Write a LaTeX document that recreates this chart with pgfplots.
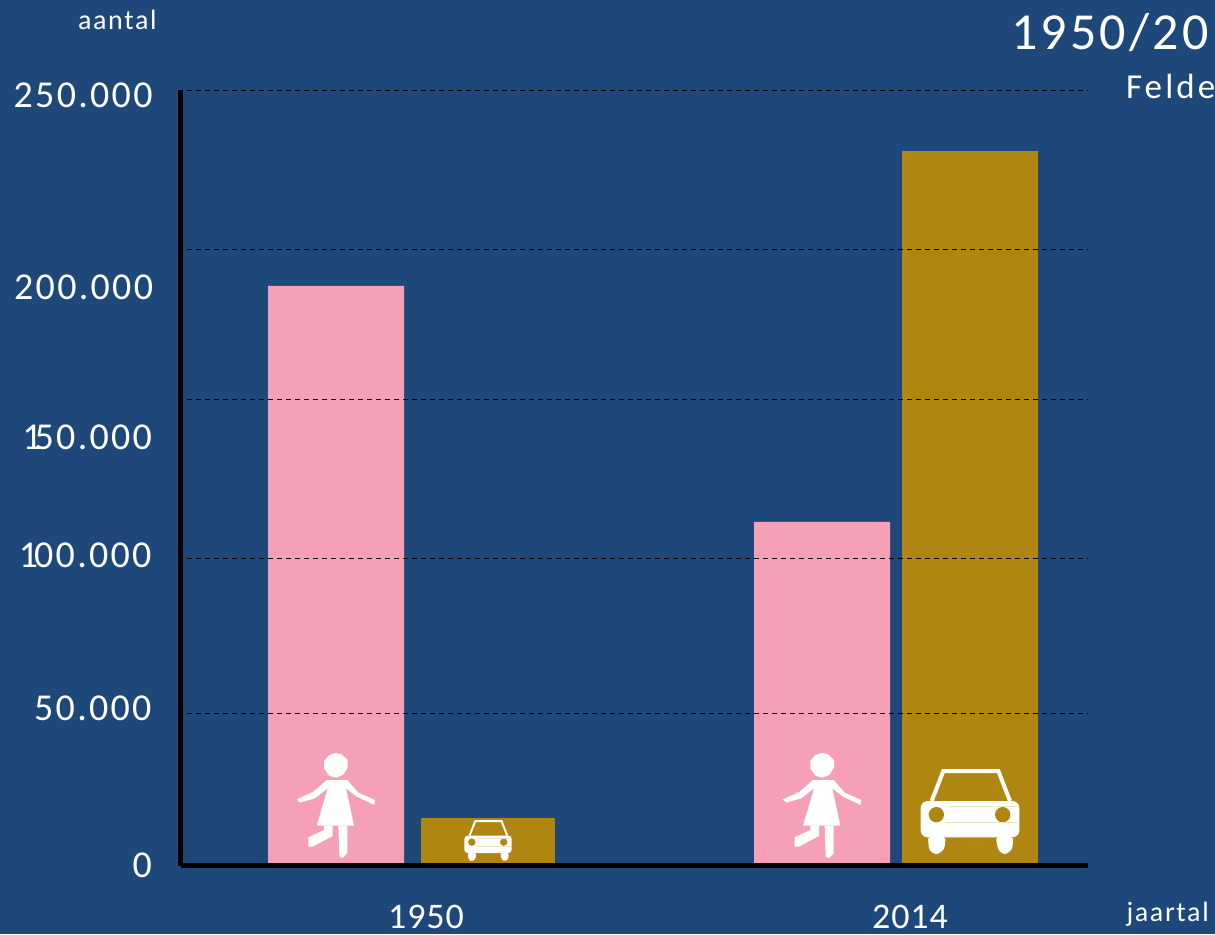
\documentclass[border=0pt]{standalone}
\usepackage{pgfplots}
\pgfplotsset{compat=1.18}
\usepackage{fontspec}
\setmainfont{Carlito}[LetterSpace=6]
\definecolor{bg}{HTML}{1E477A}
\definecolor{pinkbar}{HTML}{F5A0B6}
\definecolor{goldbar}{HTML}{AF8611}
% pictograms, coordinates are those of a 3x enlargement
\newcommand\girl[2]{%
\begin{scope}[shift={(#1pt,-#2pt)},x=0.3333pt,y=-0.3333pt,white]
\fill (0,-36) -- (18,-32) -- (36,-15) -- (36,8) -- (22,30) -- (0,38) -- (-20,32) -- (-35,10) -- (-35,-12) -- (-20,-30) -- cycle;
\fill (-27,45) -- (35,45) -- (68,83) -- (118,105) -- (116,120) -- (63,95) -- (31,70) -- (55,182) -- (-57,182) -- (-24,70) -- (-62,100) -- (-107,113) -- (-117,103) -- (-67,80) -- cycle;
\fill (8,182) -- (35,182) -- (35,265) -- (21,279) -- (11,275) -- cycle;
\fill (-35,182) -- (-9,182) -- (-9,213) -- (-69,245) -- (-82,245) -- (-82,217) -- (-35,195) -- cycle;
\end{scope}}
\newcommand\car[3]{%
\begin{scope}[shift={(#1pt,-#2pt)},x=#3*0.3333pt,y=-#3*0.3333pt]
\draw[white,line width=#3*4pt,line join=miter] (-115,-162) -- (-80,-252) -- (85,-252) -- (120,-162);
\fill[white,rounded corners=#3*7pt] (-148,-162) -- (148,-162) -- (148,-53) -- (-148,-53) -- cycle;
\fill[white,rounded corners=#3*3pt] (-127,-54) -- (-73,-54) -- (-77,-17) -- (-100,0) -- (-122,-13) -- cycle;
\fill[white,rounded corners=#3*3pt] (77,-54) -- (130,-54) -- (127,-17) -- (105,0) -- (85,-13) -- cycle;
\fill[goldbar] (-101,-121) circle[radius=23];
\fill[goldbar] (98,-121) circle[radius=23];
\draw[goldbar!25!white,line width=0.5pt] (-60,-147) -- (145,-147);
\draw[goldbar!25!white,line width=0.5pt] (-76,-98) -- (145,-98);
\end{scope}}
\newcommand\ticklab{\fontsize{38}{42}\selectfont}
\newcommand\yearlab{\fontsize{36}{40}\selectfont\addfontfeature{LetterSpace=2.5}}
\begin{document}
\begin{tikzpicture}
\path[use as bounding box,fill=bg] (0pt,0pt) rectangle (1215pt,-934pt);
\begin{axis}[
  at={(180.8pt,-865.7pt)},anchor=south west,
  scale only axis,width=907.4pt,height=775.7pt,
  xmin=180.8,xmax=1088.2,ymin=0,ymax=250000,
  axis x line=bottom,axis y line=left,
  axis line style={-,black,line width=5pt},
  ticks=none,clip=false,axis on top,
]
% bars
\addplot[ybar,bar width=136,bar shift=0pt,fill=pinkbar,draw=none] coordinates {(336,186900) (822,110800)};
\addplot[ybar,bar width=134,bar shift=0pt,fill=goldbar,draw=none] coordinates {(488,15300)};
\addplot[ybar,bar width=136,bar shift=0pt,fill=goldbar,draw=none] coordinates {(970,230500)};
% gridlines
\pgfplotsinvokeforeach{49200,99000,150200,198600,250000}{
  \addplot[black,line width=1pt,dash pattern=on 5pt off 4pt] coordinates {(187,#1) (1088,#1)};
}
\end{axis}
\girl{335.7}{765}
\girl{822}{765}
\car{970}{855}{1}
\car{488}{861.5}{0.48}
\begin{scope}[x=1pt,y=-1pt,white,every node/.style={inner sep=0pt,outer sep=0pt}]
\node[anchor=base west,font=\fontsize{28}{30}\selectfont] at (78,30) {aantal};
\node[anchor=base west,font=\fontsize{52}{56}\selectfont] at (1011.5,49) {1950/20};
\node[anchor=base west,font=\fontsize{35}{38}\selectfont\addfontfeature{LetterSpace=9}] at (1126,98) {Felde};
\node[anchor=base west,font=\fontsize{28}{30}\selectfont] at (1126.5,921) {jaartal};
\node[anchor=base east,font=\ticklab] at (152.5,107) {250.000};
\node[anchor=base east,font=\ticklab] at (153,299) {200.000};
\node[anchor=base east,font=\ticklab] at (152,449.5) {1\kern-7pt 50.000};
\node[anchor=base east,font=\ticklab] at (151.5,567) {1\kern-4pt 00.000};
\node[anchor=base east,font=\ticklab] at (151.5,720) {50.000};
\node[anchor=base east,font=\ticklab] at (152,877) {0};
\node[anchor=base,font=\yearlab] at (426,928) {1950};
\node[anchor=base,font=\yearlab] at (910,928) {2014};
\end{scope}
\end{tikzpicture}
\end{document}
